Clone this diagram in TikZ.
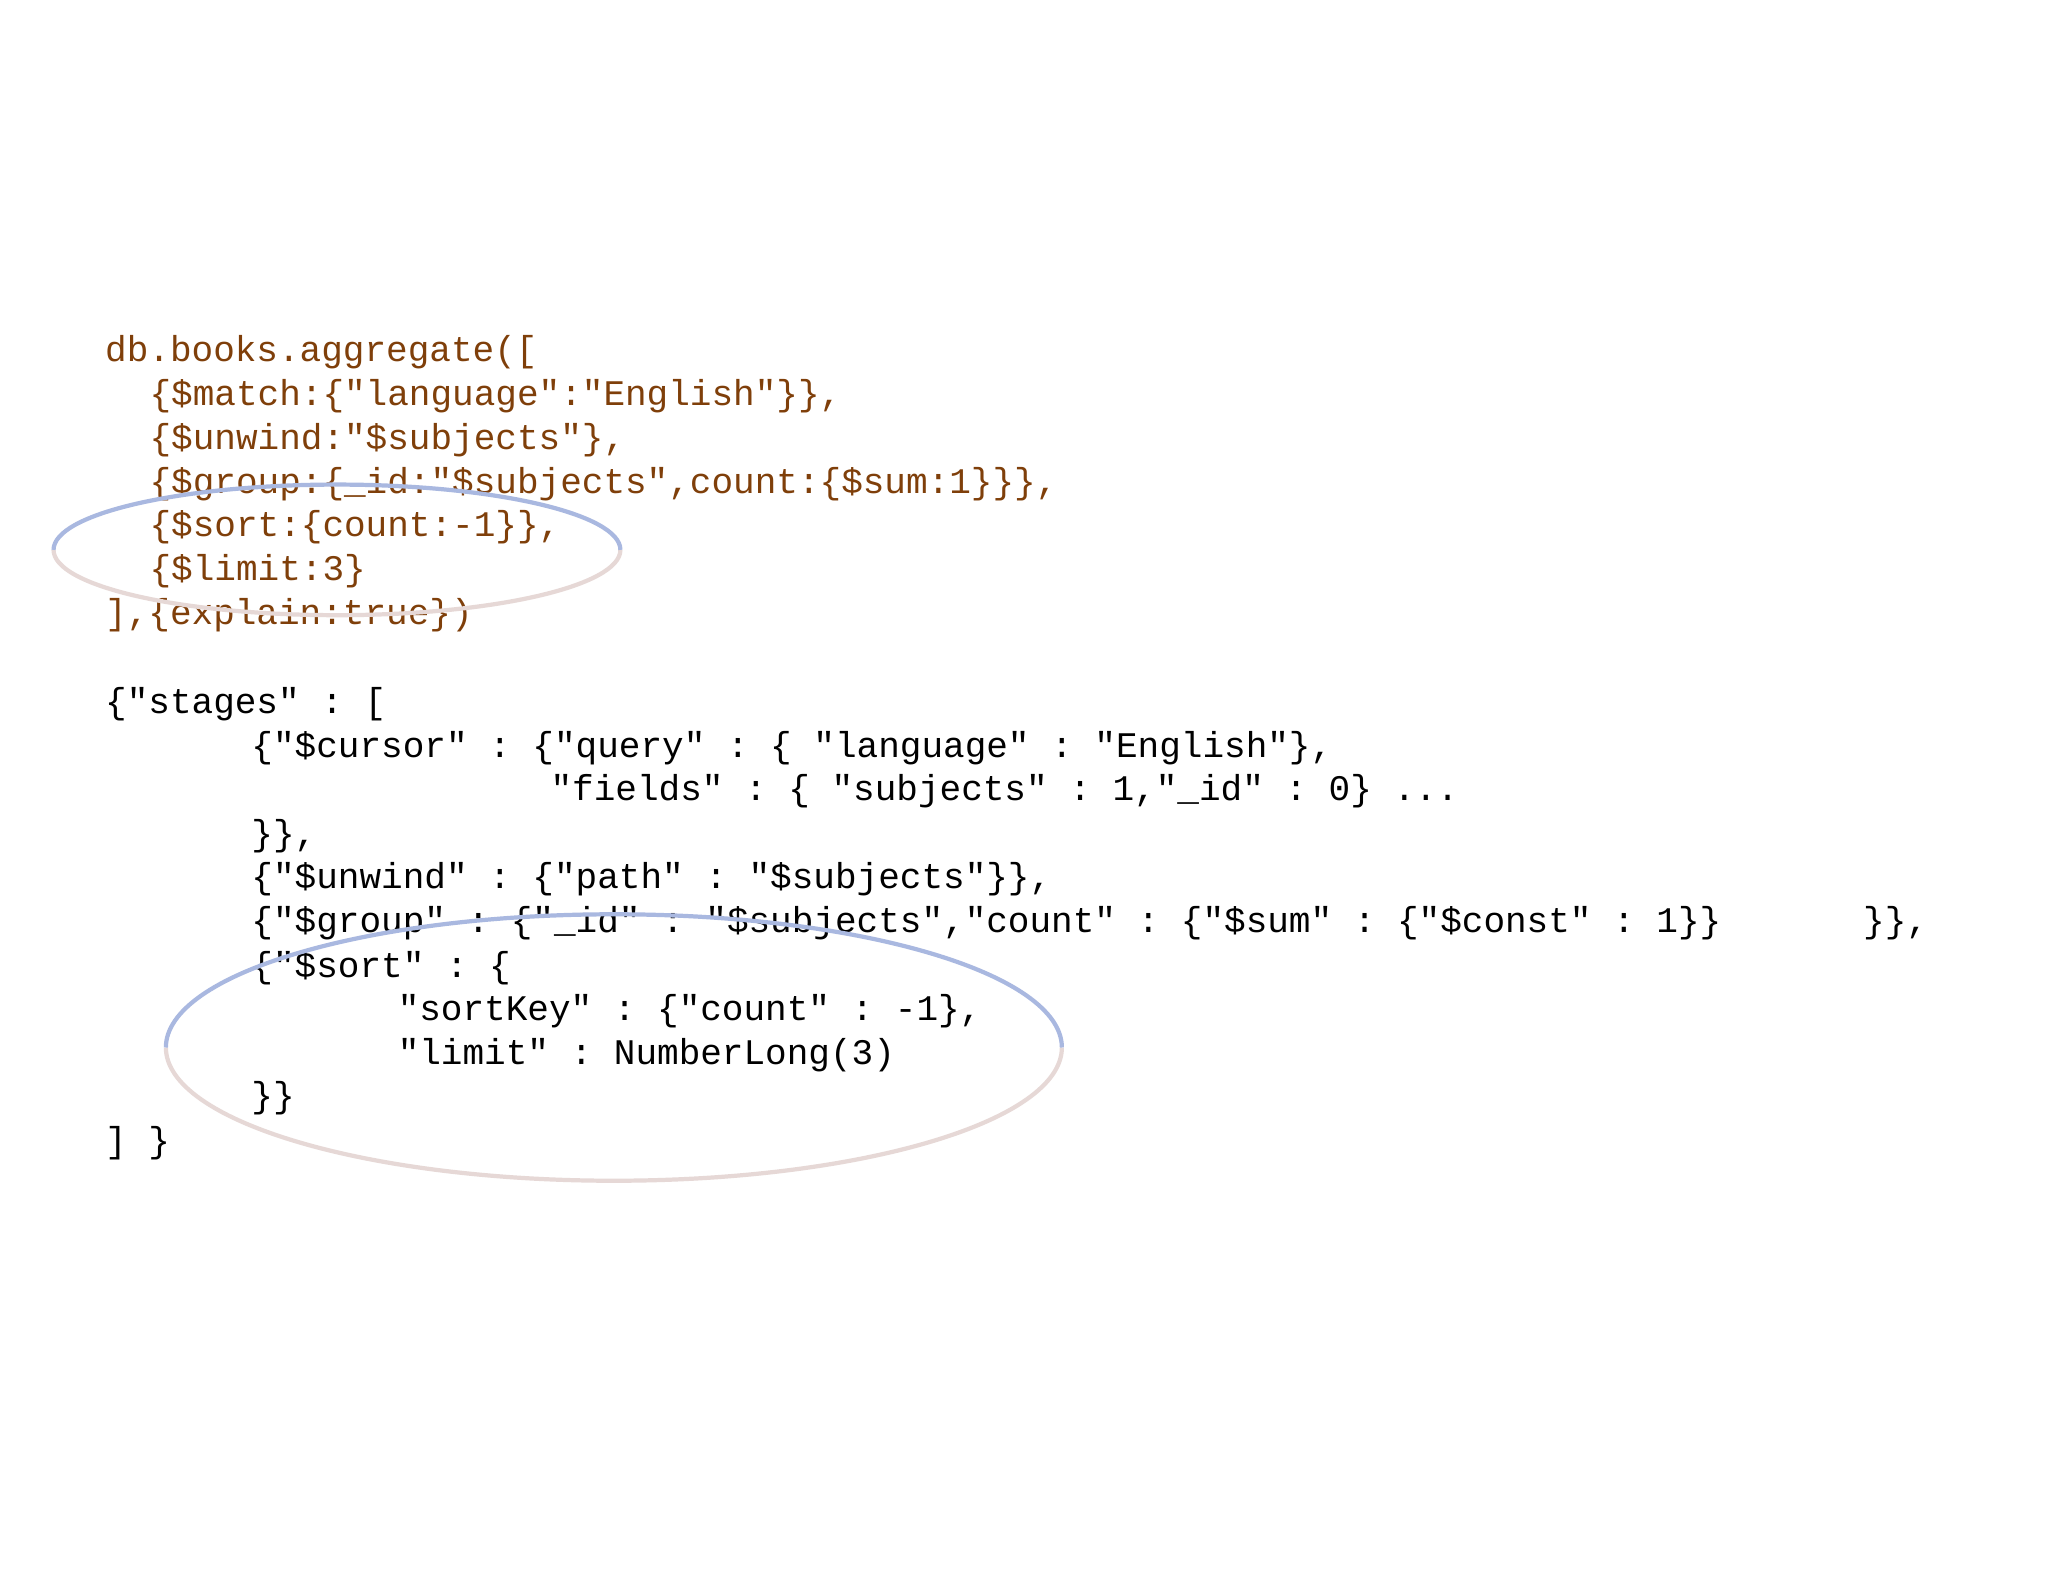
\documentclass[tikz,border=0pt]{standalone}
\usepackage{fontspec}
\setmonofont{Liberation Mono}
\definecolor{codebrown}{HTML}{7F3F0A}
\definecolor{ringblue}{HTML}{A9B8E0}
\definecolor{ringpink}{HTML}{E6D8D6}
\begin{document}
\begin{tikzpicture}[x=0.01306cm,y=-0.01306cm,
  code/.style={anchor=west,inner sep=0pt,font=\ttfamily\fontsize{10.25}{12}\selectfont},
  bcode/.style={code,text=codebrown},
  ringtop/.style={draw=ringpink,line width=1.2pt},
  ringbot/.style={draw=ringblue,line width=1.2pt}]
\useasboundingbox[fill=white] (0,0) rectangle (1568,1211);
\node[bcode] (b1) at (80,270) {db.books.aggregate([};
\node[bcode] (b2) at (114,303) {\{\$match:\{"language":"English"\}\},};
\node[bcode] (b3) at (114,337) {\{\$unwind:"\$subjects"\},};
\node[bcode] (b4) at (114,371) {\{\$group:\{\_id:"\$subjects",count:\{\$sum:1\}\}\},};
\node[bcode] (b5) at (114,404) {\{\$sort:\{count:-1\}\},};
\node[bcode] (b6) at (114,437) {\{\$limit:3\}};
\node[bcode] (b7) at (80,471) {],\{explain:true\})};
\node[code] (k1) at (80,539) {\{"stages" : [};
\node[code] (k2) at (192,573) {\{"\$cursor" : \{"query" : \{ "language" : "English"\},};
\node[code] (k3) at (421,606) {"fields" : \{ "subjects" : 1,"\_id" : 0\} ...};
\node[code] (k4) at (192,640) {\}\},};
\node[code] (k5) at (192,673) {\{"\$unwind" : \{"path" : "\$subjects"\}\},};
\node[code] (k6) at (192,707) {\{"\$group" : \{"\_id" : "\$subjects","count" : \{"\$sum" : \{"\$const" : 1\}\}};
\node[code] (k6b) at (1426,707) {\}\},};
\node[code] (k7) at (192,741) {\{"\$sort" : \{};
\node[code] (k8) at (304,774) {"sortKey" : \{"count" : -1\},};
\node[code] (k9) at (304,808) {"limit" : NumberLong(3)};
\node[code] (k10) at (192,841) {\}\}};
\node[code] (k11) at (80,875) {] \}};
% ellipses
\draw[ringtop] (41,421) arc[start angle=180,end angle=0,x radius=217,y radius=50];
\draw[ringbot] (41,421) arc[start angle=180,end angle=360,x radius=217,y radius=50];
\draw[ringtop] (127,802) arc[start angle=180,end angle=0,x radius=343,y radius=102];
\draw[ringbot] (127,802) arc[start angle=180,end angle=360,x radius=343,y radius=102];
\end{tikzpicture}
\end{document}
